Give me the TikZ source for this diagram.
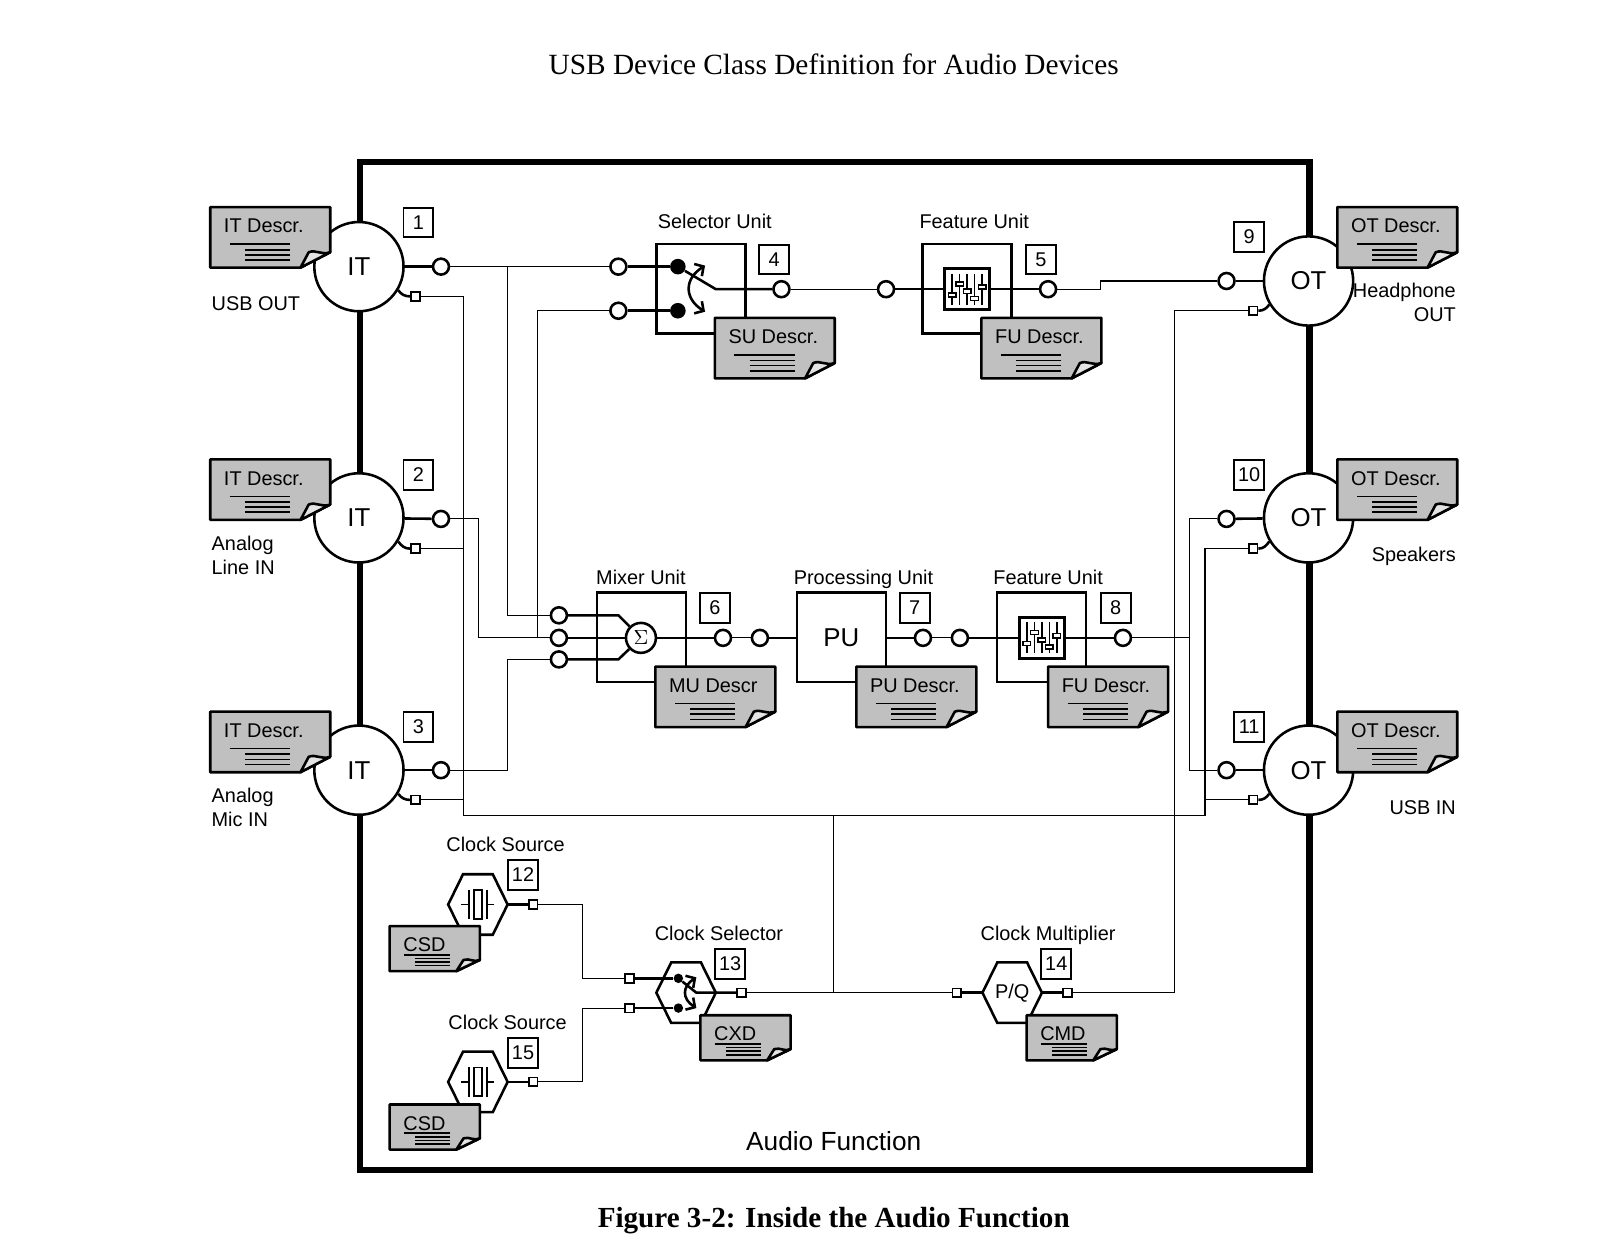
\documentclass[tikz,border=0pt]{standalone}
\usepackage{fontspec}
\setmainfont{Liberation Sans}
\newfontfamily\headfont{Liberation Serif}
\usetikzlibrary{arrows.meta}
\definecolor{notegray}{HTML}{C0C0C0}
\definecolor{flapgray}{HTML}{E4E4E4}
\tikzset{
  heavy/.style={line width=1.25pt},
  wire/.style={line width=0.55pt},
  rulez/.style={line width=0.8pt},
  lbl/.style={inner sep=0pt,font=\fontsize{9.7}{11.5}\selectfont},
  oneline/.style={lbl,text height=7pt,text depth=0pt},
  term/.style={draw,circle,heavy,fill=white,inner sep=0pt,minimum size=7.8pt},
  sq/.style={draw,rectangle,line width=0.85pt,fill=white,inner sep=0pt,minimum size=4.2pt},
  dot/.style={circle,fill=black,inner sep=0pt,minimum size=7.6pt},
  numbox/.style={draw,rectangle,line width=0.9pt,fill=white,inner sep=0pt,minimum size=14.5pt,font=\fontsize{9.7}{11}\selectfont},
  bigcirc/.style={draw,circle,heavy,fill=white,inner sep=0pt,minimum size=43.5pt,font=\fontsize{12.6}{14}\selectfont},
  unit/.style={draw,rectangle,heavy,inner sep=0pt,minimum size=43.5pt,font=\fontsize{12.6}{14}\selectfont},
  hexa/.style={rectangle,inner sep=0pt,minimum width=29pt,minimum height=29.5pt,font=\fontsize{9.7}{11}\selectfont},
  swing/.style={heavy,{Straight Barb[length=3.2pt,width=7pt]}-{Straight Barb[length=3.2pt,width=7pt]}}
}
\newcommand{\bignote}[4]{%
  \begin{scope}[shift={(#2,#3)}]
  \draw[heavy,line join=round,fill=notegray] (0,0) -- (117,0) -- (117,44) -- (88,59) -- (0,59) -- cycle;
  \draw[heavy,line join=round,fill=flapgray] (88,59) -- (96,44) .. controls (103,41) and (108,47) .. (117,44) -- cycle;
  \draw[rulez] (19,36) -- (78,36);
  \foreach \ry in {41.5,46.5,51.5} \draw[rulez] (34,\ry) -- (78,\ry);
  \node[oneline,anchor=west] (#1) at (13,18) {#4};
  \end{scope}}
\newcommand{\smallnote}[4]{%
  \begin{scope}[shift={(#2,#3)}]
  \draw[heavy,line join=round,fill=notegray] (0,0) -- (88,0) -- (88,33) -- (65,44) -- (0,44) -- cycle;
  \draw[heavy,line join=round,fill=flapgray] (65,44) -- (72,33) .. controls (78,31) and (82,36) .. (88,33) -- cycle;
  \draw[rulez] (14,28) -- (59,28);
  \foreach \ry in {31.5,35,38.5} \draw[rulez] (25,\ry) -- (59,\ry);
  \node[oneline,anchor=west] (#1) at (13,18) {#4};
  \end{scope}}
\newcommand{\hexnode}[4]{%
  \draw[heavy,fill=white] (#2-29,#3) -- (#2-14.5,#3-29.5) -- (#2+14.5,#3-29.5) -- (#2+29,#3) -- (#2+14.5,#3+29.5) -- (#2-14.5,#3+29.5) -- cycle;
  \node[hexa] (#1) at (#2,#3) {#4};}
\newcommand{\slidericon}[1]{%
  \begin{scope}[shift={(#1)}]
  \foreach \fx/\fy in {-14.6/5.5,-7.3/-5.2,0/2,7.3/9,14.6/-2} {
    \draw[line width=0.8pt] (\fx,-15) -- (\fx,15);
    \draw[line width=0.7pt,fill=white] (\fx-3.7,\fy-2) rectangle (\fx+3.7,\fy+2);
  }
  \end{scope}}
\newcommand{\crystal}[1]{%
  \begin{scope}[shift={(#1)}]
  \draw[line width=0.85pt] (-16,0) -- (-9,0) (-9,-14.5) -- (-9,14.5) (9,-14.5) -- (9,14.5) (9,0) -- (16,0);
  \draw[line width=0.85pt] (-3.7,-14) rectangle (3.7,14);
  \end{scope}}

\begin{document}
\begin{tikzpicture}[x=0.5pt,y=-0.5pt]
\useasboundingbox (0,0) rectangle (1568,1215);
% headings
\node[inner sep=0pt,font=\headfont\fontsize{14.3}{16}\selectfont] (title) at (813,63) {USB Device Class Definition for Audio Devices};
\node[inner sep=0pt,font=\headfont\bfseries\fontsize{14.2}{16}\selectfont] (caption) at (813,1190) {Figure 3-2: Inside the Audio Function};
\draw[line width=3.2pt,line join=miter] (351,158) rectangle (1277,1141);
\node[inner sep=0pt,font=\fontsize{12.8}{14}\selectfont] (audiofn) at (813,1113) {Audio Function};
% terminals
\node[bigcirc] (it1) at (350,260) {IT};
\node[bigcirc] (it2) at (350,505) {IT};
\node[bigcirc] (it3) at (350,751) {IT};
\node[bigcirc] (ot1) at (1276,274) {OT};
\node[bigcirc] (ot2) at (1276,505) {OT};
\node[bigcirc] (ot3) at (1276,751) {OT};
\node[term] (t1) at (430,260) {};
\node[term] (t2) at (430,506) {};
\node[term] (t3) at (430,751) {};
\node[sq] (sq1) at (405,289) {};
\node[sq] (sq2) at (405,535) {};
\node[sq] (sq3) at (405,780) {};
\node[term] (t9) at (1196,274) {};
\node[term] (t10) at (1196,506) {};
\node[term] (t11) at (1196,751) {};
\node[sq] (sq9) at (1222,303) {};
\node[sq] (sq10) at (1222,535) {};
\node[sq] (sq11) at (1222,780) {};
% units
\node[unit] (su) at (683.5,281.5) {};
\node[term] (su1) at (603,260) {};
\node[term] (su2) at (603,303) {};
\node[dot] (sd1) at (661,260) {};
\node[dot] (sd2) at (661,303) {};
\coordinate (spiv) at (698,282);
\node[term] (suout) at (762,282) {};
\node[unit] (fu) at (943,281.5) {};
\node[draw,heavy,fill=white,inner sep=0pt,minimum width=22pt,minimum height=20pt] (fuicon) at (943,282) {};
\node[term] (fuin) at (864,282) {};
\node[term] (fuout) at (1022,282) {};
\node[unit] (mu) at (625.5,621.5) {};
\node[term] (m1) at (545,600) {};
\node[term] (m2) at (545,622) {};
\node[term] (m3) at (545,643) {};
\node[draw,circle,heavy,fill=white,inner sep=0pt,minimum size=14.6pt] (mix) at (625,622) {$\Sigma$};
\coordinate (mk1) at (603,600);
\coordinate (mk3) at (603,643);
\node[term] (muout) at (705,622) {};
\node[unit] (pu) at (820.5,621.5) {PU};
\node[term] (puin) at (741,622) {};
\node[term] (puout) at (900,622) {};
\node[unit] (fb) at (1015.5,621.5) {};
\node[draw,heavy,fill=white,inner sep=0pt,minimum width=22pt,minimum height=20pt] (fbicon) at (1016,622) {};
\node[term] (fbin) at (936,622) {};
\node[term] (fbout) at (1095,622) {};
% clock entities
\hexnode{cs1}{466}{882}{}
\hexnode{cs2}{466}{1055}{}
\hexnode{cx}{669}{968}{}
\hexnode{cm}{987}{968}{P/Q}
\node[sq] (cs1out) at (520,882) {};
\node[sq] (cs2out) at (520,1055) {};
\node[sq] (cx1) at (614,954) {};
\node[sq] (cx2) at (614,983) {};
\node[sq] (cxout) at (723,968) {};
\node[sq] (cmin) at (933,968) {};
\node[sq] (cmout) at (1041,968) {};
\node[dot,minimum size=4.6pt] (cd1) at (661.5,954) {};
\node[dot,minimum size=4.6pt] (cd2) at (661.5,983) {};
\coordinate (cpiv) at (679,968);
% route corners
\coordinate (vA) at (452,795);
\coordinate (vB) at (1175,795);
\coordinate (vC) at (813,795);
\coordinate (vD) at (1145,635);
\coordinate (vE) at (1160,622);
\coordinate (vF) at (495,430);
\coordinate (vG) at (495,697);
\coordinate (vH) at (467,564);
\coordinate (vI) at (524,460);
\coordinate (vJ) at (1073,278);
\coordinate (vK) at (568,918);
\coordinate (vL) at (568,1019);
% thin wires
\draw[wire] (t1) -- (su1);
\draw[wire] (t1 -| vF) |- (m1);
\draw[wire] (t2) -| (vH) |- (m2);
\draw[wire] (su2) -| (vI) |- (m2);
\draw[wire] (t3) -| (vG) |- (m3);
\draw[wire] (sq1) -| (vA) -- (vB) |- (sq10);
\draw[wire] (vB |- sq11) -- (sq11);
\draw[wire] (sq2) -- (sq2 -| vA);
\draw[wire] (sq3) -- (sq3 -| vA);
\draw[wire] (vC) |- (cmin);
\draw[wire] (cxout) -- (cxout -| vC);
\draw[wire] (cmout) -| (vD) |- (sq9);
\draw[wire] (suout) -- (fuin);
\draw[wire] (fuout) -| (vJ) |- (t9);
\draw[wire] (muout) -- (puin);
\draw[wire] (puout) -- (fbin);
\draw[wire] (fbout) -- (vE);
\draw[wire] (vE) |- (t10);
\draw[wire] (vE) |- (t11);
\draw[wire] (cs1out) -| (vK) |- (cx1);
\draw[wire] (cs2out) -| (vL) |- (cx2);
% heavy wires
\draw[heavy] (it1) -- (t1);
\draw[heavy] (it2) -- (t2);
\draw[heavy] (it3) -- (t3);
\draw[heavy] (sq1) to[out=180,in=-55] (it1.-31);
\draw[heavy] (sq2) to[out=180,in=-55] (it2.-31);
\draw[heavy] (sq3) to[out=180,in=-55] (it3.-31);
\draw[heavy] (t9) -- (ot1);
\draw[heavy] (t10) -- (ot2);
\draw[heavy] (t11) -- (ot3);
\draw[heavy] (sq9) to[out=0,in=235] (ot1.211);
\draw[heavy] (sq10) to[out=0,in=235] (ot2.211);
\draw[heavy] (sq11) to[out=0,in=235] (ot3.211);
\draw[heavy] (su1) -- (sd1);
\draw[heavy] (su2) -- (sd2);
\draw[heavy] (sd1) -- (spiv) -- (suout);
\draw[swing] (687.5,259) .. controls (667,272) and (667,291) .. (687.5,304);
\draw[heavy] (fuin) -- (fuicon);
\draw[heavy] (fuicon) -- (fuout);
\draw[heavy] (m1) -- (mk1) -- (mix);
\draw[heavy] (m2) -- (mix);
\draw[heavy] (m3) -- (mk3) -- (mix);
\draw[heavy] (mix) -- (muout);
\draw[heavy] (puin) -- (puin -| pu.west);
\draw[heavy] (puout -| pu.east) -- (puout);
\draw[heavy] (fbin) -- (fbicon);
\draw[heavy] (fbicon) -- (fbout);
\draw[heavy] (cs1.east) -- (cs1out);
\draw[heavy] (cs2.east) -- (cs2out);
\draw[heavy] (cx1) -- (cd1);
\draw[heavy] (cx2) -- (cd2);
\draw[heavy] (cd1) -- (cpiv) -- (cxout);
\draw[swing] (679,953) .. controls (665,962) and (665,974) .. (679,983);
\draw[heavy] (cmin) -- (cm.west);
\draw[heavy] (cm.east) -- (cmout);
\slidericon{fuicon}
\slidericon{fbicon}
\crystal{cs1}
\crystal{cs2}
% descriptors
\bignote{ditone}{205}{202}{IT Descr.}
\bignote{dittwo}{205}{448}{IT Descr.}
\bignote{ditthree}{205}{694}{IT Descr.}
\bignote{dotone}{1304}{202}{OT Descr.}
\bignote{dottwo}{1304}{448}{OT Descr.}
\bignote{dotthree}{1304}{694}{OT Descr.}
\bignote{dsu}{697}{310}{SU Descr.}
\bignote{dfu}{957}{310}{FU Descr.}
\bignote{dmu}{639}{650}{MU Descr}
\bignote{dpu}{835}{650}{PU Descr.}
\bignote{dfb}{1022}{650}{FU Descr.}
\smallnote{dcsone}{380}{903}{CSD}
\smallnote{dcstwo}{380}{1077}{CSD}
\smallnote{dcx}{683}{990}{CXD}
\smallnote{dcm}{1001}{990}{CMD}
% ids
\node[numbox] (n1) at (408,217) {1};
\node[numbox] (n2) at (408,463) {2};
\node[numbox] (n3) at (408,709) {3};
\node[numbox] (n4) at (755,253) {4};
\node[numbox] (n5) at (1015,253) {5};
\node[numbox] (n6) at (697,593) {6};
\node[numbox] (n7) at (892,593) {7};
\node[numbox] (n8) at (1088,593) {8};
\node[numbox] (n9) at (1218,231) {9};
\node[numbox] (n10) at (1218,463) {10};
\node[numbox] (n11) at (1218,709) {11};
\node[numbox] (n12) at (510,853) {12};
\node[numbox] (n13) at (712,940) {13};
\node[numbox] (n14) at (1030,940) {14};
\node[numbox] (n15) at (510,1027) {15};
% labels
\node[oneline,anchor=west] (lusbout) at (206,296) {USB OUT};
\node[lbl,anchor=west,align=left] (lline) at (206,541.5) {Analog\\Line IN};
\node[lbl,anchor=west,align=left] (lmic) at (206,787.5) {Analog\\Mic IN};
\node[lbl,anchor=east,align=right] (lhead) at (1420,295) {Headphone\\OUT};
\node[oneline,anchor=east] (lspk) at (1420,541) {Speakers};
\node[oneline,anchor=east] (lusbin) at (1420,787) {USB IN};
\node[oneline] (lsu) at (697,216) {Selector Unit};
\node[oneline] (lfu) at (950,216) {Feature Unit};
\node[oneline] (lmu) at (625,563) {Mixer Unit};
\node[oneline] (lpu) at (842,563) {Processing Unit};
\node[oneline] (lfb) at (1022,563) {Feature Unit};
\node[oneline] (lcsone) at (493,823) {Clock Source};
\node[oneline] (lcx) at (701,910) {Clock Selector};
\node[oneline] (lcm) at (1022,910) {Clock Multiplier};
\node[oneline] (lcstwo) at (495,997) {Clock Source};
\end{tikzpicture}
\end{document}
